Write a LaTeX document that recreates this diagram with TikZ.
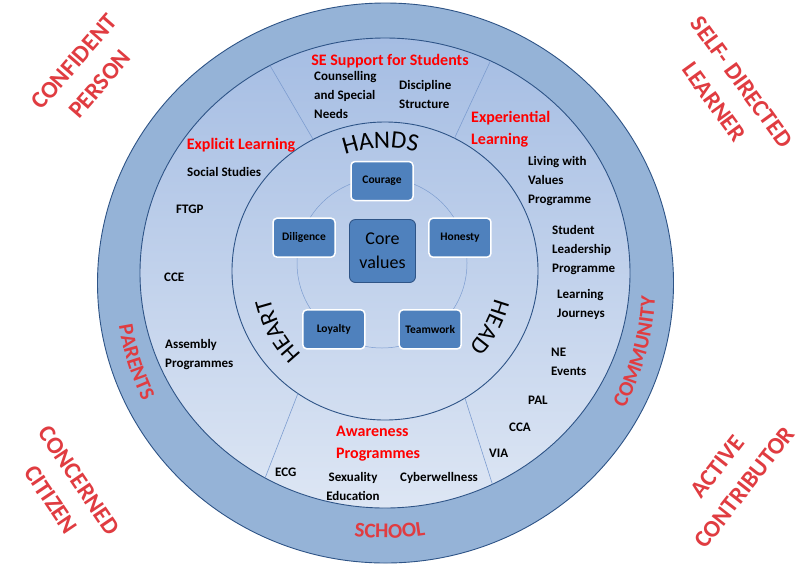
\documentclass[tikz,border=0pt]{standalone}
\usepackage{fontspec}
\setmainfont{Carlito}
\usetikzlibrary{calc,decorations.text}
\definecolor{ringblue}{HTML}{95B3D7}
\definecolor{ringline}{HTML}{2E5487}
\definecolor{fieldtop}{HTML}{A5BDE3}
\definecolor{fieldbot}{HTML}{DDE6F4}
\definecolor{spoke}{HTML}{7D9DD0}
\definecolor{valfill}{HTML}{4F81BD}
\definecolor{headred}{HTML}{FF0000}
\definecolor{goalred}{HTML}{E03C41}

\begin{document}
\begin{tikzpicture}[x=1pt, y=1pt,
    valbox/.style={rectangle, draw=white, fill=valfill, line width=1.5pt,
                   rounded corners=4pt, minimum width=62pt, minimum height=39pt,
                   font=\fontsize{11.5}{13}\selectfont\bfseries},
    corebox/.style={rectangle, draw=ringline, fill=valfill, line width=0.9pt,
                    rounded corners=6pt, minimum width=66pt, minimum height=63pt,
                    align=center, font=\fontsize{18}{24}\selectfont},
    item/.style={inner sep=0pt, anchor=west, align=left,
                 font=\fontsize{13}{19}\selectfont\bfseries},
    head/.style={inner sep=0pt, align=left, text=headred,
                 font=\fontsize{16}{22.5}\selectfont\bfseries},
    goal/.style={inner sep=0pt, align=center, text=goalred,
                 font=\fontsize{24}{34}\selectfont\bfseries},
    spokeline/.style={spoke, line width=0.6pt},
    curved/.style={decorate, decoration={text along path, text align=center,
                   text color=#1}},
    curved/.default=black
]
\useasboundingbox[fill=white] (0,0) rectangle (800,-566);

\coordinate (oc) at (385.5,-283);
\coordinate (fc) at (385,-273);
\coordinate (hc) at (385,-271);
\coordinate (vc) at (382,-263);

\filldraw[fill=ringblue, draw=ringline, line width=0.9pt]
    (oc) ellipse [x radius=288, y radius=280];
\shadedraw[top color=fieldtop, bottom color=fieldbot, draw=ringline, line width=0.9pt]
    (fc) ellipse [x radius=245, y radius=235];
\draw[ringline, line width=0.9pt] (hc) ellipse [x radius=153, y radius=149];

\draw[spokeline] ($(hc)+(118:153 and 149)$) -- ($(fc)+(118:245 and 235)$);
\draw[spokeline] ($(hc)+(63:153 and 149)$) -- ($(fc)+(64.5:245 and 235)$);
\draw[spokeline] ($(hc)+(-124.7:153 and 149)$) -- ($(fc)+(-119.3:245 and 235)$);
\draw[spokeline] ($(hc)+(-58.5:153 and 149)$) -- ($(fc)+(-64:245 and 235)$);

\draw[spoke, line width=0.5pt] (vc) circle [radius=85];

\node[corebox] (core) at (382.5,-251) {Core\\values};
\node[valbox] (courage) at ($(vc)+(90:82)$) {Courage};
\node[valbox] (honesty) at ($(vc)+(18:82)$) {Honesty};
\node[valbox] (teamwork) at ($(vc)+(-54:82)$) {Teamwork};
\node[valbox] (loyalty) at ($(vc)+(-126:82)$) {Loyalty};
\node[valbox] (diligence) at ($(vc)+(162:82)$) {Diligence};

\path[curved, decoration={text={|\fontsize{25}{25}\selectfont|HANDS}}]
    ($(hc)+(117:123)$) arc [start angle=117, end angle=67, radius=123];
\path[curved, decoration={text={|\fontsize{24}{24}\selectfont|HEART}}]
    ($(hc)+(239:118)$) arc [start angle=239, end angle=179, radius=118];
\path[curved, decoration={text={|\fontsize{24}{24}\selectfont|HEAD}}]
    ($(hc)+(2:113)$) arc [start angle=2, end angle=-58, radius=113];

\path[curved=goalred, decoration={text={|\fontsize{21}{21}\selectfont\bfseries|SCHOOL}}]
    ($(oc)+(250:255)$) arc [start angle=250, end angle=292, radius=255];
\path[curved=goalred, decoration={text={|\fontsize{21}{21}\selectfont\bfseries|PARENTS}}]
    ($(oc)+(167.5:270)$) arc [start angle=167.5, end angle=227.5, radius=270];
\path[curved=goalred, decoration={text={|\fontsize{21}{21}\selectfont\bfseries|COMMUNITY}}]
    ($(oc)+(-45.3:270)$) arc [start angle=-45.3, end angle=14.7, radius=270];

\node[head] (sesupport) at (390,-61) {SE Support for Students};
\node[item] (counsel) at (314,-94.7) {Counselling\\and Special\\Needs};
\node[item] (discipline) at (399,-94.5) {Discipline\\Structure};

\node[head, anchor=west] (experiential) at (471,-129) {Experiential\\Learning};
\node[item] (lwv) at (528,-181) {Living with\\Values\\Programme};
\node[item] (slp) at (552,-250) {Student\\Leadership\\Programme};
\node[item] (journeys) at (557,-304.5) {Learning\\Journeys};
\node[item] (ne) at (551,-361.5) {NE\\Events};
\node[item] (pal) at (528,-400) {PAL};
\node[item] (cca) at (509,-427) {CCA};
\node[item] (via) at (489,-453) {VIA};

\node[head] (explicit) at (241,-145) {Explicit Learning};
\node[item] (social) at (187,-172) {Social Studies};
\node[item] (ftgp) at (176,-209) {FTGP};
\node[item] (cce) at (164,-277) {CCE};
\node[item] (assembly) at (165,-355) {Assembly\\Programmes};

\node[head, anchor=west] (awareness) at (336,-443.5) {Awareness\\Programmes};
\node[item] (ecg) at (275,-472) {ECG};
\node[item, anchor=center, align=center] (sexuality) at (353,-486.5) {Sexuality\\Education};
\node[item] (cyber) at (400,-478) {Cyberwellness};

\node[goal, rotate=49] (confident) at (87,-73) {CONFIDENT\\PERSON};
\node[goal, rotate=-54] (selfdirected) at (728,-92) {SELF- DIRECTED\\LEARNER};
\node[goal, rotate=-56] (concerned) at (65,-490) {CONCERNED\\CITIZEN};
\node[goal, rotate=52] (active) at (731,-477) {ACTIVE\\CONTRIBUTOR};
\end{tikzpicture}
\end{document}
